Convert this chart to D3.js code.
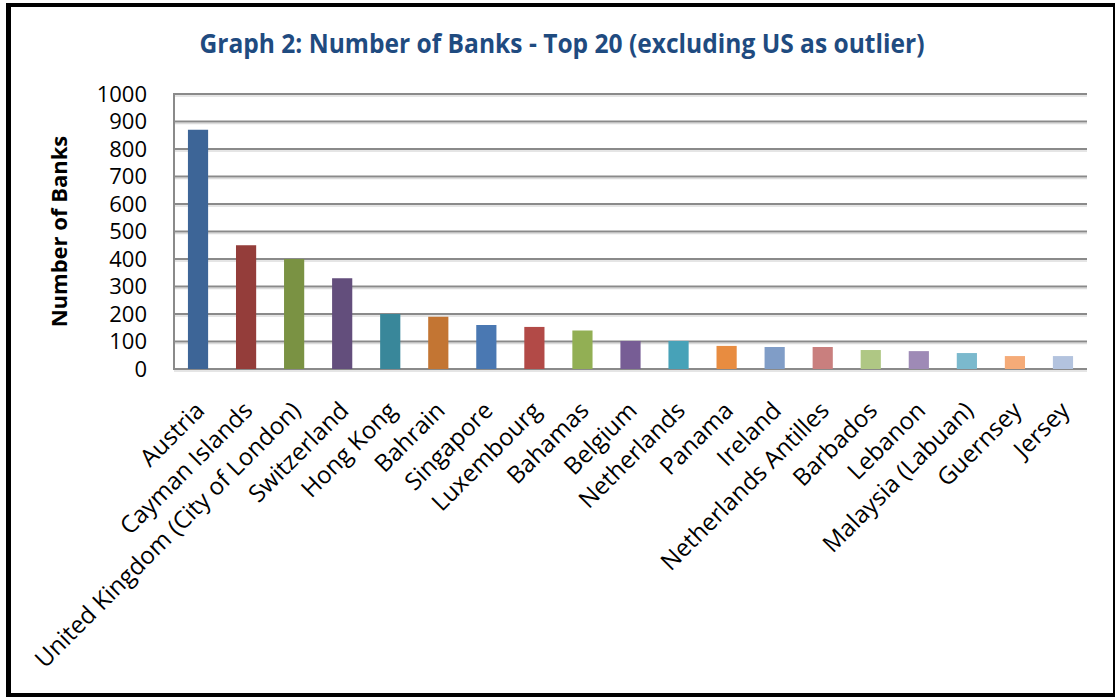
<!DOCTYPE html>
<html>
<head>
<meta charset="utf-8">
<script src="https://cdn.jsdelivr.net/npm/d3@7"></script>
<style>
  body { margin: 0; background: #fff; }
  svg { display: block; }
</style>
</head>
<body>
<div id="chart"></div>
<script>
var countries = [
    "Austria", "Cayman Islands", "United Kingdom (City of London)", "Switzerland", "Hong Kong",
    "Bahrain", "Singapore", "Luxembourg", "Bahamas", "Belgium", "Netherlands", "Panama",
    "Ireland", "Netherlands Antilles", "Barbados", "Lebanon", "Malaysia (Labuan)", "Guernsey", "Jersey"
];
var banks = [870, 450, 400, 330, 200, 190, 160, 153, 140, 102, 102, 84, 80, 80, 69, 65, 58, 47, 47];
var yTicks = [0, 100, 200, 300, 400, 500, 600, 700, 800, 900, 1000];
var barColors = [
    "#3d6597", "#943d3a", "#7a9243", "#634e7c", "#39879a", "#c37533", "#4a78b2", "#b24a47",
    "#92af54", "#775d95", "#47a2b8", "#e88c40", "#809dc7", "#c97f7e", "#afc784", "#9e8ab6",
    "#7bb9cd", "#f5ab78", "#b3c3de"
];
var title = "Graph 2: Number of Banks - Top 20 (excluding US as outlier)";
var yTitle = "Number of Banks";

var width = 1115;
var height = 697;
var margin = {left: 174, right: 28, top: 94, bottom: 328};
var font = "'Open Sans', sans-serif";

var svg = d3.select("#chart").append("svg")
    .attr("width", width)
    .attr("height", height);

// outer frame
svg.append("rect").attr("x", 6).attr("y", 3).attr("width", 5).attr("height", 694).attr("fill", "#000");
svg.append("rect").attr("x", 6).attr("y", 3).attr("width", 1109).attr("height", 4).attr("fill", "#000");
svg.append("rect").attr("x", 1113).attr("y", 3).attr("width", 2).attr("height", 694).attr("fill", "#000");
svg.append("rect").attr("x", 6).attr("y", 693).attr("width", 1109).attr("height", 4).attr("fill", "#000");

var x = d3.scaleBand()
    .domain(countries)
    .range([margin.left, width - margin.right])
    .paddingInner(0.58)
    .paddingOuter(0.29);

var y = d3.scaleLinear()
    .domain([0, 1000])
    .range([height - margin.bottom, margin.top]);

// gridlines with a light shadow
var grid = svg.append("g");
grid.selectAll("line.shadow")
    .data(yTicks).enter().append("line")
    .attr("class", "shadow")
    .attr("x1", margin.left).attr("x2", width - margin.right)
    .attr("y1", function(d){ return y(d) + 2; })
    .attr("y2", function(d){ return y(d) + 2; })
    .attr("stroke", "#dcdcdc").attr("stroke-width", 1.5);
grid.selectAll("line.main")
    .data(yTicks).enter().append("line")
    .attr("class", "main")
    .attr("x1", margin.left - 1).attr("x2", width - margin.right)
    .attr("y1", function(d){ return y(d); })
    .attr("y2", function(d){ return y(d); })
    .attr("stroke", "#8a8a8a").attr("stroke-width", 2);

// left axis line
svg.append("line")
    .attr("x1", margin.left).attr("x2", margin.left)
    .attr("y1", y(1000)).attr("y2", y(0) + 1)
    .attr("stroke", "#8a8a8a").attr("stroke-width", 2);

// y tick labels
var yAxis = d3.axisLeft(y).tickValues(yTicks).tickFormat(d3.format("d")).tickSize(0).tickPadding(27);
var yg = svg.append("g")
    .attr("transform", "translate(" + margin.left + ",0)")
    .call(yAxis);
yg.select(".domain").remove();
yg.selectAll("text")
    .attr("font-family", font)
    .attr("font-size", "22px")
    .attr("fill", "#000");

// bars
svg.selectAll("rect.bar")
    .data(banks).enter().append("rect")
    .attr("class", "bar")
    .attr("x", function(d, i){ return x(countries[i]); })
    .attr("width", x.bandwidth())
    .attr("y", function(d){ return y(d); })
    .attr("height", function(d){ return y(0) - y(d); })
    .attr("fill", function(d, i){ return barColors[i]; });

// category labels
svg.selectAll("text.cat")
    .data(countries).enter().append("text")
    .attr("class", "cat")
    .attr("text-anchor", "end")
    .attr("font-family", font)
    .attr("font-size", "24px")
    .attr("fill", "#000")
    .attr("transform", function(d){
        var cx = x(d) + x.bandwidth() / 2;
        return "translate(" + (cx + 8) + "," + 412 + ") rotate(-45)";
    })
    .text(function(d){ return d; });

// title
svg.append("text")
    .attr("x", 562)
    .attr("y", 53)
    .attr("text-anchor", "middle")
    .attr("font-family", font)
    .attr("font-weight", "bold")
    .attr("font-size", "27px")
    .attr("fill", "#1f4b80")
    .attr("textLength", 725)
    .attr("lengthAdjust", "spacingAndGlyphs")
    .text(title);

// y axis title
svg.append("text")
    .attr("transform", "translate(67," + ((y(0) + y(1000)) / 2) + ") rotate(-90)")
    .attr("text-anchor", "middle")
    .attr("font-family", font)
    .attr("font-weight", "bold")
    .attr("font-size", "22px")
    .attr("fill", "#000")
    .text(yTitle);
</script>
</body>
</html>
